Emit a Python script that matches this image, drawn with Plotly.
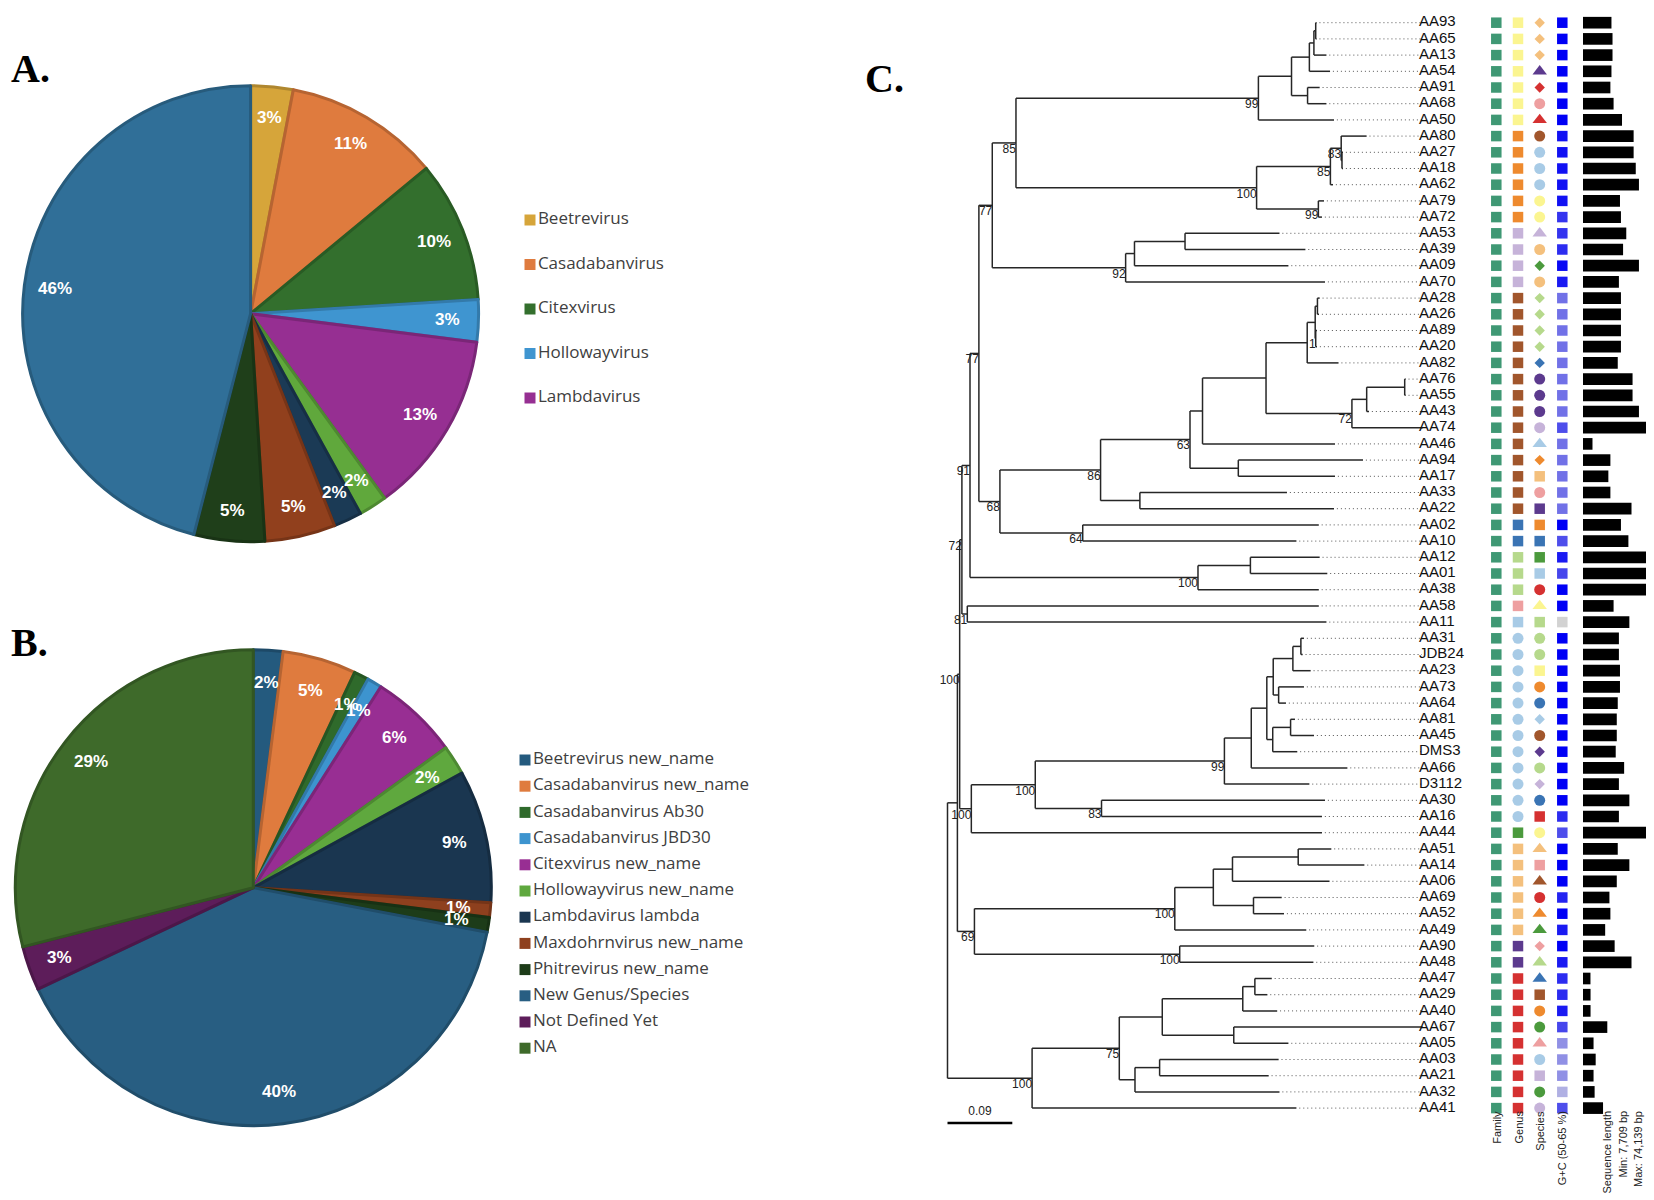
import plotly.graph_objects as go
import math

W, H = 1654, 1200

# ------------------------------------------------------------------ data: pies
PIE_A_LABELS = ["Beetrevirus", "Casadabanvirus", "Citexvirus", "Hollowayvirus", "Lambdavirus",
                "Hollowayvirus (B)", "Lambdavirus lambda", "Maxdohrnvirus", "Phitrevirus", "New Genus/Species"]
PIE_A_VALUES = [3, 11, 10, 3, 13, 2, 2, 5, 5, 46]
PIE_A_COLORS = ["#d6a53a", "#df7b3e", "#336f2d", "#3f95d0", "#962f92",
                "#60a83c", "#1b3a55", "#91401d", "#1f3f1a", "#306f98"]
PIE_A_LEGEND_N = 5   # only the first five categories appear in the legend

PIE_B_LABELS = ["Beetrevirus new_name", "Casadabanvirus new_name", "Casadabanvirus Ab30",
                "Casadabanvirus JBD30", "Citexvirus new_name", "Hollowayvirus new_name",
                "Lambdavirus lambda", "Maxdohrnvirus new_name", "Phitrevirus new_name",
                "New Genus/Species", "Not Defined Yet", "NA"]
PIE_B_VALUES = [2, 5, 1, 1, 6, 2, 9, 1, 1, 40, 3, 29]
PIE_B_COLORS = ["#245a7e", "#df7b3e", "#2f6a2b", "#3d94cf", "#982e93", "#5fa83e",
                "#1a3650", "#8e401e", "#1d3c19", "#285e82", "#5d1d5a", "#3e6a2a"]

# ------------------------------------------------------------------ data: tree
# Newick; the number after ':' is the node depth (distance from the root),
# the number after ')' is the bootstrap support.
T_99 = ("(((((AA93:0.5126,AA65:0.5126):0.5114,AA13:0.5263):0.5089,AA54:0.5313):0.5026,"
        "(AA91:0.5169,AA68:0.5263):0.5001):0.4778,AA50:0.5368)99:0.4318")
T_100B = ("(((AA80:0.5821,(AA27:0.5493,AA18:0.5493):0.5479)83:0.5468,AA62:0.5354)85:0.5318,"
          "(AA79:0.5229,AA72:0.5201)99:0.5151)100:0.4293")
T_85 = "(" + T_99 + "," + T_100B + ")85:0.0951"
T_92 = "(((AA53:0.4611,AA39:0.4971):0.3299,AA09:0.4735):0.2597,AA70:0.5243)92:0.2474"
T_77 = "(" + T_85 + "," + T_92 + ")77:0.0622"
T_890 = ("((((AA28:0.5169,AA26:0.5160):0.5138,(AA89:0.5132,AA20:0.5132)1:0.5114):0.5107,"
         "AA82:0.5431):0.4996,(((AA76:0.6363,AA55:0.6363):0.6350,AA43:0.5854):0.5822,"
         "AA74:0.6599)72:0.5617):0.4424")
T_63 = "((" + T_890 + ",AA46:0.5382):0.3542,(AA94:0.5771,AA17:0.5382):0.4039)63:0.3368"
T_86 = "(" + T_63 + ",(AA33:0.4715,AA22:0.5368):0.2672)86:0.2126"
T_68 = "(" + T_86 + ",(AA02:0.5157,AA10:0.4846)64:0.1878)68:0.0728"
T_77B = "(" + T_77 + "," + T_68 + ")77:0.0436"
T_100C = "((AA12:0.5169,AA01:0.5275):0.4207,AA38:0.5157)100:0.3479"
T_91 = "(" + T_77B + "," + T_100C + ")91:0.03125"
T_81 = "(AA58:0.5157,AA11:0.5263)81:0.0275"
T_72 = "(" + T_91 + "," + T_81 + ")72:0.0200"
T_N = ("((((AA31:0.4951,JDB24:0.4933):0.4908,AA23:0.5044):0.4797,(AA73:0.4951,AA64:0.4701):0.4599):0.4524,"
       "((AA81:0.4826,AA45:0.5090):0.4765,DMS3:0.4858):0.4517):0.4435")
T_99C = "((" + T_N + ",AA66:0.5554):0.4219,D3112:0.5026)99:0.3846"
T_100D = "(" + T_99C + ",(AA30:0.5243,AA16:0.5201)83:0.2139)100:0.1219"
T_100E = "(" + T_100D + ",AA44:0.5201)100:0.0331"
T_Z = "(" + T_72 + "," + T_100E + ")100:0.0169"
T_100F = ("((((AA51:0.5331,AA14:0.5790):0.4871,AA06:0.5306):0.3958,(AA69:0.4642,AA52:0.4674):0.4250):0.3692,"
          "AA49:0.4983)100:0.3157")
T_69 = "(" + T_100F + ",(AA90:0.5094,AA48:0.5082)100:0.3225)69:0.0374"
T_W = "(" + T_Z + "," + T_69 + "):0.01375"
T_100H = ("(((((AA47:0.4504,AA29:0.4443):0.4269,AA40:0.4579):0.4101,(AA67:0.6599,AA05:0.4735):0.3976):0.2983,"
          "((AA03:0.4599,AA21:0.4461):0.2946,AA32:0.4611):0.2604)75:0.2386,AA41:0.4846)100:0.1175")
NEWICK = "(" + T_W + "," + T_100H + "):0.0;"
SCALE_BAR = 0.09

# ------------------------------------------------------------------ data: tip annotations
TIPS = ["AA93", "AA65", "AA13", "AA54", "AA91", "AA68", "AA50", "AA80", "AA27", "AA18",
        "AA62", "AA79", "AA72", "AA53", "AA39", "AA09", "AA70", "AA28", "AA26", "AA89",
        "AA20", "AA82", "AA76", "AA55", "AA43", "AA74", "AA46", "AA94", "AA17", "AA33",
        "AA22", "AA02", "AA10", "AA12", "AA01", "AA38", "AA58", "AA11", "AA31", "JDB24",
        "AA23", "AA73", "AA64", "AA81", "AA45", "DMS3", "AA66", "D3112", "AA30", "AA16",
        "AA44", "AA51", "AA14", "AA06", "AA69", "AA52", "AA49", "AA90", "AA48", "AA47",
        "AA29", "AA40", "AA67", "AA05", "AA03", "AA21", "AA32", "AA41"]
# category codes: first letter = marker shape (s square, c circle, d diamond, t triangle), rest = colour key
GENUS = (["s-lye"] * 7 + ["s-ora"] * 6 + ["s-lav"] * 4 + ["s-bro"] * 14 + ["s-blu"] * 2 +
         ["s-lgr"] * 3 + ["s-pnk"] + ["s-lbl"] + ["c-lbl"] * 12 + ["s-gre"] + ["s-lor"] * 6 +
         ["s-pur"] * 2 + ["s-red"] * 9)
SPECIES = ["d-lor", "d-lor", "d-lor", "t-pur", "d-red", "c-pnk", "t-red", "c-bro", "c-lbl", "c-lbl",
           "c-lbl", "c-lye", "c-lye", "t-lav", "c-lor", "d-gre", "c-lor", "d-lgr", "d-lgr", "d-lgr",
           "d-lgr", "d-blu", "c-pur", "c-pur", "c-pur", "c-lav", "t-lbl", "d-ora", "s-lor", "c-pnk",
           "s-pur", "s-ora", "s-blu", "s-gre", "s-lbl", "c-red", "t-lye", "s-lgr", "c-lgr", "c-lgr",
           "s-lye", "c-ora", "c-blu", "d-lbl", "c-bro", "d-pur", "c-lgr", "d-lav", "c-blu", "s-red",
           "c-lye", "t-lor", "s-pnk", "t-bro", "c-red", "t-ora", "t-gre", "d-pnk", "t-lgr", "t-blu",
           "s-bro", "c-ora", "c-gre", "t-pnk", "c-lbl", "s-lav", "c-gre", "c-lav"]
GC = [62, 62, 62, 62, 62, 62, 62, 61, 61, 61,
      61, 61, 59, 59, 59.5, 61.5, 60.5, 55.5, 55.5, 55.5,
      55.5, 55.5, 55.5, 55.5, 55.5, 57.5, 55.5, 55.5, 55.5, 55.5,
      55.5, 62, 57.5, 60.5, 58, 62, 62, None, 62, 62,
      62, 62, 62, 62, 62, 62, 62, 62, 62, 59.5,
      57.5, 62, 62, 62, 60, 62, 60.5, 62, 60.5, 59.5,
      59.5, 60.5, 58, 53, 53, 53, 50, 57.5]
SEQ_KB = [29.4, 30.5, 30.5, 29.4, 28.3, 31.6, 40.3, 52.3, 52.3, 54.5,
          57.8, 38.2, 39.2, 44.7, 41.4, 57.8, 37.1, 39.2, 39.2, 39.2,
          39.2, 35.9, 51.2, 51.2, 57.8, 73.0, 9.8, 28.3, 26.2, 28.3,
          50.1, 39.2, 46.9, 65.4, 65.4, 66.5, 31.6, 47.9, 37.1, 37.1,
          38.2, 38.2, 35.9, 34.9, 34.9, 33.8, 42.5, 37.1, 47.9, 37.1,
          74.139, 35.9, 47.9, 34.9, 27.3, 28.3, 22.9, 32.7, 50.1, 7.709,
          7.8, 7.8, 25.1, 10.9, 13.1, 10.9, 12.0, 20.7]
COLUMN_HEADERS = ["Family", "Genus", "Species", "G+C (50-65 %)",
                  "Sequence length", "Min: 7,709 bp", "Max: 74,139 bp"]

# ------------------------------------------------------------------ styles / layout constants
PALETTE = {"lye": "#fbf590", "ora": "#ee8a2e", "lav": "#c6b3d9", "bro": "#a1562c", "blu": "#3a74b4",
           "lgr": "#b6d98c", "pnk": "#ee9fa0", "lbl": "#a8cbe6", "gre": "#4b9a3d", "lor": "#f4c07d",
           "pur": "#5c3a8e", "red": "#d53131"}
SHAPES = {"s": ("square", 10.5), "c": ("circle", 11), "d": ("diamond", 8), "t": ("triangle-up", 12.5)}
FAMILY_COLOR = "#3f9874"
GC_SCALE = [[0, "#c6c6e2"], [0.5, "#7a7ae6"], [1, "#0000f5"]]
GC_MIN, GC_MAX = 48, 62

ROOT_PX, PX_PER_UNIT = 939.5, 720.0
LEAF0_PX, LEAF_STEP = 14.7, 16.2
LABEL_PX = 1411.0
DOT_END_PX = 1414.0
COL_PX = [1488.3, 1510.0, 1531.7, 1554.3]
BAR0_PX, BAR_PX_PER_KB = 1575.0, 0.968
PIE_A = (242.6, 305.7, 228.0)
PIE_B = (245.3, 879.7, 238.0)
LABEL_RF = 0.865
FONT = "Liberation Sans, Arial, sans-serif"
LEG_FONT = "Open Sans, Liberation Sans, sans-serif"


def darker(hexc, f=0.82):
    h = hexc.lstrip("#")
    r, g, b = (int(h[i:i + 2], 16) for i in (0, 2, 4))
    return "#%02x%02x%02x" % (int(r * f), int(g * f), int(b * f))


def parse_newick(s):
    s = s.strip().rstrip(";")
    pos = 0

    def node():
        nonlocal pos
        kids = []
        if s[pos] == "(":
            pos += 1
            while True:
                kids.append(node())
                if s[pos] == ",":
                    pos += 1
                    continue
                if s[pos] == ")":
                    pos += 1
                    break
        st = pos
        while pos < len(s) and s[pos] not in ",):":
            pos += 1
        name = s[st:pos]
        depth = 0.0
        if pos < len(s) and s[pos] == ":":
            pos += 1
            st = pos
            while pos < len(s) and s[pos] not in ",)":
                pos += 1
            depth = float(s[st:pos])
        return {"name": name, "depth": depth, "kids": kids}

    return node()


tree = parse_newick(NEWICK)
leaves = []


def assign_y(nd):
    if not nd["kids"]:
        nd["y"] = len(leaves)
        leaves.append(nd)
    else:
        for k in nd["kids"]:
            assign_y(k)
        nd["y"] = (nd["kids"][0]["y"] + nd["kids"][-1]["y"]) / 2.0


assign_y(tree)

seg_x, seg_y = [], []
sup_x, sup_y, sup_t = [], [], []


def walk(nd, parent_depth):
    if parent_depth is not None:
        seg_x.extend([parent_depth, nd["depth"], None])
        seg_y.extend([nd["y"], nd["y"], None])
    if nd["kids"]:
        seg_x.extend([nd["depth"], nd["depth"], None])
        seg_y.extend([nd["kids"][0]["y"], nd["kids"][-1]["y"], None])
        if nd["name"]:
            sup_x.append(nd["depth"])
            sup_y.append(nd["y"] + 0.42)
            sup_t.append(nd["name"])
        for k in nd["kids"]:
            walk(k, nd["depth"])


walk(tree, None)

label_depth = (DOT_END_PX - ROOT_PX) / PX_PER_UNIT
dot_x, dot_y = [], []
for lf in leaves:
    if lf["depth"] < label_depth - 0.004:
        dot_x.extend([lf["depth"] + 0.004, label_depth, None])
        dot_y.extend([lf["y"], lf["y"], None])

fig = go.Figure()

# tree branches
fig.add_trace(go.Scatter(x=seg_x, y=seg_y, mode="lines", line=dict(color="#262626", width=1.5),
                         hoverinfo="skip", xaxis="x", yaxis="y"))
fig.add_trace(go.Scatter(x=dot_x, y=dot_y, mode="lines", line=dict(color="#555555", width=1, dash="1px,3px"),
                         hoverinfo="skip", xaxis="x", yaxis="y"))
fig.add_trace(go.Scatter(x=sup_x, y=sup_y, mode="text", text=sup_t, textposition="middle left",
                         textfont=dict(family=FONT, size=12, color="#222222"),
                         hoverinfo="skip", xaxis="x", yaxis="y"))
# tip labels
fig.add_trace(go.Scatter(x=[LABEL_PX] * len(leaves), y=[lf["y"] for lf in leaves], mode="text",
                         text=[lf["name"] for lf in leaves], textposition="middle right",
                         textfont=dict(family=FONT, size=15, color="#111111"),
                         hoverinfo="skip", xaxis="x2", yaxis="y"))

tip_y = {lf["name"]: lf["y"] for lf in leaves}
ys = [tip_y[t] for t in TIPS]

# family column
fig.add_trace(go.Scatter(x=[COL_PX[0]] * len(TIPS), y=ys, mode="markers",
                         marker=dict(symbol="square", size=10.5, color=FAMILY_COLOR),
                         hovertext=TIPS, hoverinfo="text", xaxis="x2", yaxis="y"))


def add_cat_column(codes, colx):
    groups = {}
    for code, yy in zip(codes, ys):
        groups.setdefault(code, []).append(yy)
    for code, yl in groups.items():
        shp, col = code.split("-")
        sym, sz = SHAPES[shp]
        fig.add_trace(go.Scatter(x=[colx] * len(yl), y=yl, mode="markers",
                                 marker=dict(symbol=sym, size=sz, color=PALETTE[col]),
                                 hoverinfo="skip", xaxis="x2", yaxis="y"))


add_cat_column(GENUS, COL_PX[1])
add_cat_column(SPECIES, COL_PX[2])

gc_y = [yy for yy, g in zip(ys, GC) if g is not None]
gc_v = [g for g in GC if g is not None]
fig.add_trace(go.Scatter(x=[COL_PX[3]] * len(gc_y), y=gc_y, mode="markers",
                         marker=dict(symbol="square", size=10.5, color=gc_v, colorscale=GC_SCALE,
                                     cmin=GC_MIN, cmax=GC_MAX, showscale=False),
                         hoverinfo="skip", xaxis="x2", yaxis="y"))
na_y = [yy for yy, g in zip(ys, GC) if g is None]
fig.add_trace(go.Scatter(x=[COL_PX[3]] * len(na_y), y=na_y, mode="markers",
                         marker=dict(symbol="square", size=10.5, color="#d2d2d2"),
                         hoverinfo="skip", xaxis="x2", yaxis="y"))

# sequence length bars
fig.add_trace(go.Bar(x=SEQ_KB, y=ys, orientation="h", width=0.72, marker=dict(color="black", line=dict(width=0)),
                     hovertext=TIPS, hoverinfo="text+x", xaxis="x3", yaxis="y"))

# scale bar
fig.add_trace(go.Scatter(x=[0, SCALE_BAR], y=[1115, 1115], mode="lines", line=dict(color="black", width=2.5),
                         hoverinfo="skip", xaxis="x", yaxis="y2"))
fig.add_trace(go.Scatter(x=[SCALE_BAR / 2], y=[1104], mode="text", text=["%.2f" % SCALE_BAR],
                         textfont=dict(family=FONT, size=12, color="#222222"),
                         hoverinfo="skip", xaxis="x", yaxis="y2"))

annotations = []


# pies
def add_pie(labels, values, colors, geom):
    cx, cy, r = geom
    fig.add_trace(go.Pie(labels=labels, values=values, sort=False, direction="clockwise", rotation=0,
                         marker=dict(colors=colors, line=dict(color=[darker(c) for c in colors], width=3)),
                         textinfo="none", showlegend=False, hoverinfo="label+percent",
                         domain=dict(x=[(cx - r) / W, (cx + r) / W], y=[1 - (cy + r) / H, 1 - (cy - r) / H])))
    tot = float(sum(values))
    cum = 0.0
    for v in values:
        th = 2 * math.pi * (cum + v / 2.0) / tot
        lx = cx + LABEL_RF * r * math.sin(th)
        ly = cy - LABEL_RF * r * math.cos(th)
        annotations.append(dict(x=lx / W, y=1 - ly / H, xref="paper", yref="paper",
                                text="<b>%d%%</b>" % round(100 * v / tot), showarrow=False,
                                xanchor="center", yanchor="middle",
                                font=dict(family=FONT, size=17, color="white")))
        cum += v


add_pie(PIE_A_LABELS, PIE_A_VALUES, PIE_A_COLORS, PIE_A)
add_pie(PIE_B_LABELS, PIE_B_VALUES, PIE_B_COLORS, PIE_B)


def add_legend(labels, colors, x0, y0, step):
    fig.add_trace(go.Scatter(x=[x0] * len(labels), y=[y0 + i * step for i in range(len(labels))],
                             mode="markers+text", text=labels, textposition="middle right",
                             marker=dict(symbol="square", size=11, color=colors),
                             textfont=dict(family=LEG_FONT, size=17, color="#404040"),
                             hoverinfo="skip", xaxis="x2", yaxis="y2"))


add_legend(PIE_A_LABELS[:PIE_A_LEGEND_N], PIE_A_COLORS[:PIE_A_LEGEND_N], 522, 212, 44.5)
add_legend(PIE_B_LABELS, PIE_B_COLORS, 517, 752, 26.2)

for txt, (x, y) in zip(["A.", "B.", "C."], [(1, 60), (1, 634), (855, 70)]):
    annotations.append(dict(x=x / W, y=1 - y / H, xref="paper", yref="paper", text="<b>%s</b>" % txt,
                            showarrow=False, xanchor="left", yanchor="middle",
                            font=dict(family="Liberation Serif, Times New Roman, serif", size=40, color="black")))
for txt, x in zip(COLUMN_HEADERS, COL_PX + [1598, 1614, 1630]):
    annotations.append(dict(x=x / W, y=1 - 1101 / H, xref="paper", yref="paper", text=txt, showarrow=False,
                            textangle=-90, xanchor="center", yanchor="top",
                            font=dict(family=FONT, size=11, color="#222222")))

ax_common = dict(visible=False, showgrid=False, zeroline=False, fixedrange=True)
fig.update_layout(
    width=W, height=H, margin=dict(l=0, r=0, t=0, b=0),
    paper_bgcolor="white", plot_bgcolor="rgba(0,0,0,0)", showlegend=False,
    xaxis=dict(domain=[0, 1], range=[-ROOT_PX / PX_PER_UNIT, (W - ROOT_PX) / PX_PER_UNIT], **ax_common),
    yaxis=dict(domain=[0, 1], range=[(H - LEAF0_PX) / LEAF_STEP, -LEAF0_PX / LEAF_STEP], **ax_common),
    xaxis2=dict(overlaying="x", range=[0, W], **ax_common),
    yaxis2=dict(overlaying="y", range=[H, 0], **ax_common),
    xaxis3=dict(overlaying="x", range=[-BAR0_PX / BAR_PX_PER_KB, (W - BAR0_PX) / BAR_PX_PER_KB], **ax_common),
    annotations=annotations,
)

fig.write_html("out.html")
